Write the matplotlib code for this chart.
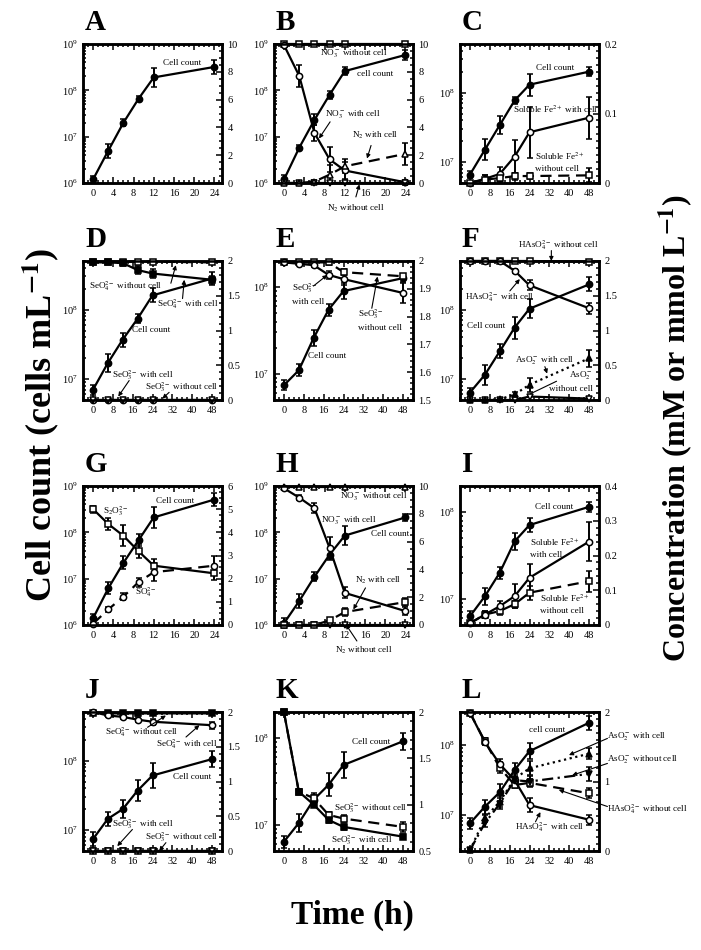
import numpy as np
import matplotlib
matplotlib.use("Agg")
import matplotlib.pyplot as plt
from matplotlib.ticker import MultipleLocator, LogLocator, NullFormatter, FuncFormatter

plt.rcParams['font.family'] = ['Liberation Serif', 'DejaVu Serif']
plt.rcParams['mathtext.fontset'] = 'stix'

# sampling times (h)
t24 = [0, 3, 6, 9, 12, 24]
t48 = [0, 6, 12, 18, 24, 48]

# cell count error bars are given in decades (log10 half range)
# A
a_cell = [1.2e6, 5e6, 2e7, 6.6e7, 1.9e8, 3.2e8]
a_cell_err = [0.08, 0.15, 0.08, 0.06, 0.2, 0.15]
# B
b_cell = [1.2e6, 5.8e6, 2.3e7, 8e7, 2.6e8, 5.8e8]
b_cell_err = [0.1, 0.06, 0.12, 0.09, 0.08, 0.1]
b_no3_cell = [9.9, 7.7, 3.6, 1.7, 0.9, 0.05]
b_no3_cell_err = [0.1, 0.8, 0.6, 0.9, 0.6, 0.2]
b_no3_nocell = [10, 10, 10, 10, 10, 10]
b_n2_cell = [0, 0, 0.1, 0.6, 1.2, 2.1]
b_n2_cell_err = [0, 0.05, 0.15, 0.7, 0.5, 0.8]
b_n2_nocell = [0, 0, 0, 0, 0, 0]
# C
c_cell = [6.6e6, 1.5e7, 3.4e7, 7.7e7, 1.3e8, 2.0e8]
c_cell_err = [0.05, 0.15, 0.13, 0.05, 0.16, 0.065]
c_fe_cell = [0, 0.006, 0.013, 0.038, 0.073, 0.094]
c_fe_cell_err = [0.003, 0.006, 0.01, 0.024, 0.037, 0.03]
c_fe_nocell = [0, 0.005, 0.007, 0.01, 0.01, 0.011]
c_fe_nocell_err = [0.003, 0.006, 0.006, 0.005, 0.004, 0.01]
# D
d_cell = [7e6, 1.7e7, 3.7e7, 7.4e7, 1.6e8, 2.8e8]
d_cell_err = [0.07, 0.13, 0.1, 0.06, 0.1, 0.1]
d_seo4_cell = [1.98, 1.98, 1.97, 1.87, 1.82, 1.73]
d_seo4_cell_err = [0.02, 0.03, 0.04, 0.06, 0.07, 0.06]
d_seo4_nocell = [1.99, 1.99, 1.99, 1.99, 1.99, 1.98]
d_seo3_cell = [0, 0, 0, 0, 0, 0]
d_seo3_nocell = [0, 0, 0, 0, 0, 0]
# E
e_cell = [7.4e6, 1.1e7, 2.6e7, 5.5e7, 9e7, 1.27e8]
e_cell_err = [0.06, 0.07, 0.09, 0.07, 0.09, 0.05]
e_seo3_cell = [1.995, 1.99, 1.985, 1.95, 1.935, 1.885]
e_seo3_cell_err = [0.005, 0.005, 0.008, 0.015, 0.02, 0.035]
e_seo3_nocell = [1.995, 1.995, 1.995, 1.995, 1.96, 1.945]
e_seo3_nocell_err = [0.005, 0.005, 0.005, 0.008, 0.01, 0.01]
# F
f_cell = [6.4e6, 1.15e7, 2.5e7, 5.5e7, 1.03e8, 2.3e8]
f_cell_err = [0.06, 0.14, 0.1, 0.16, 0.14, 0.1]
f_has_cell = [2.0, 2.0, 2.0, 1.86, 1.65, 1.32]
f_has_cell_err = [0.01, 0.01, 0.02, 0.03, 0.07, 0.08]
f_has_nocell = [2.0, 2.0, 2.0, 2.0, 2.0, 1.99]
f_aso2_cell = [0, 0, 0.01, 0.08, 0.22, 0.6]
f_aso2_cell_err = [0, 0, 0.01, 0.03, 0.1, 0.12]
f_aso2_nocell = [0, 0, 0, 0, 0.05, 0.02]
# G
g_cell = [1.4e6, 6.2e6, 2.2e7, 6.8e7, 2.1e8, 5.1e8]
g_cell_err = [0.1, 0.13, 0.14, 0.13, 0.23, 0.14]
g_s2o3 = [5.0, 4.36, 3.85, 3.18, 2.56, 2.23]
g_s2o3_err = [0.15, 0.25, 0.45, 0.3, 0.3, 0.3]
g_so4 = [0.06, 0.67, 1.23, 1.85, 2.28, 2.56]
g_so4_err = [0.05, 0.1, 0.15, 0.2, 0.4, 0.4]
# H
h_cell = [1.1e6, 3.3e6, 1.1e7, 3.3e7, 8.5e7, 2.1e8]
h_cell_err = [0.1, 0.15, 0.1, 0.12, 0.2, 0.08]
h_no3_cell = [9.83, 9.16, 8.4, 5.54, 2.31, 1.0]
h_no3_cell_err = [0.1, 0.2, 0.35, 0.8, 0.4, 0.3]
h_no3_nocell = [9.95, 9.95, 9.95, 9.95, 9.95, 9.95]
h_n2_cell = [0, 0, 0, 0.33, 0.93, 1.65]
h_n2_cell_err = [0, 0, 0.05, 0.1, 0.3, 0.3]
h_n2_nocell = [0, 0, 0, 0, 0, 0]
# I
i_cell = [6.3e6, 1.07e7, 2e7, 4.6e7, 7.1e7, 1.15e8]
i_cell_err = [0.06, 0.1, 0.07, 0.1, 0.08, 0.06]
i_fe_cell = [0.005, 0.03, 0.054, 0.083, 0.136, 0.24]
i_fe_cell_err = [0.005, 0.01, 0.015, 0.035, 0.04, 0.055]
i_fe_nocell = [0.005, 0.03, 0.04, 0.06, 0.093, 0.126]
i_fe_nocell_err = [0.005, 0.01, 0.01, 0.01, 0.02, 0.03]
# J
j_cell = [7.4e6, 1.45e7, 2e7, 3.7e7, 6.1e7, 1.05e8]
j_cell_err = [0.1, 0.1, 0.13, 0.15, 0.18, 0.12]
j_seo4_cell = [2.0, 1.95, 1.93, 1.89, 1.86, 1.81]
j_seo4_cell_err = [0.01, 0.02, 0.03, 0.04, 0.04, 0.05]
j_seo4_nocell = [1.99, 1.98, 1.98, 1.98, 1.98, 1.98]
j_seo3_cell = [0, 0, 0, 0, 0, 0]
j_seo3_nocell = [0, 0, 0, 0, 0, 0]
# K
k_cell = [6.4e6, 1.05e7, 1.95e7, 2.9e7, 4.9e7, 9.2e7]
k_cell_err = [0.07, 0.1, 0.08, 0.13, 0.15, 0.1]
k_seo3_cell = [2.0, 1.14, 1.0, 0.835, 0.76, 0.655]
k_seo3_cell_err = [0.01, 0.03, 0.03, 0.03, 0.03, 0.03]
k_seo3_nocell = [2.0, 1.14, 1.07, 0.89, 0.85, 0.76]
k_seo3_nocell_err = [0.01, 0.03, 0.03, 0.03, 0.04, 0.05]
# L
l_cell = [7.5e6, 1.3e7, 2.1e7, 4.4e7, 8.2e7, 2.1e8]
l_cell_err = [0.08, 0.1, 0.12, 0.1, 0.12, 0.1]
l_has_cell = [1.99, 1.57, 1.25, 1.02, 0.66, 0.45]
l_has_cell_err = [0.01, 0.05, 0.08, 0.05, 0.1, 0.07]
l_has_nocell = [1.99, 1.58, 1.2, 0.95, 0.98, 0.83]
l_has_nocell_err = [0.01, 0.05, 0.08, 0.05, 0.05, 0.07]
l_aso2_cell = [0.01, 0.47, 0.71, 1.04, 1.19, 1.4]
l_aso2_cell_err = [0.02, 0.05, 0.08, 0.06, 0.1, 0.08]
l_aso2_nocell = [0.01, 0.4, 0.68, 1.02, 1.0, 1.11]
l_aso2_nocell_err = [0.02, 0.05, 0.08, 0.05, 0.08, 0.1]

W, HF = 701, 950
col_px = [83, 274, 460]
row_px = [44, 261, 486, 712]
SZ = 139

fig = plt.figure(figsize=(W / 100, HF / 100), dpi=100)

SOLID = '-'
DASH = (0, (5, 3))
DOT = (0, (1, 1.6))
DASHDOT = (0, (5, 2, 1, 2))
fmt_g = FuncFormatter(lambda v, p: f'{v:g}')


def panel(col, row, letter, t, ylog, yr, rmaj, rmin):
    left = col_px[col] / W
    bottom = 1 - (row_px[row] + SZ) / HF
    ax = fig.add_axes([left, bottom, SZ / W, SZ / HF])
    long = t[-1] == 48
    ax.set_yscale('log')
    ax.set_ylim(*ylog)
    ax.set_xlim((-4, 52) if long else (-2, 25.5))
    ax.xaxis.set_major_locator(MultipleLocator(8 if long else 4))
    ax.xaxis.set_minor_locator(MultipleLocator(2 if long else 1))
    ax.yaxis.set_major_locator(LogLocator(base=10))
    ax.yaxis.set_minor_locator(LogLocator(base=10, subs=np.arange(2, 10)))
    ax.yaxis.set_minor_formatter(NullFormatter())
    ax2 = ax.twinx()
    ax2.set_ylim(*yr)
    ax2.yaxis.set_major_locator(MultipleLocator(rmaj))
    ax2.yaxis.set_minor_locator(MultipleLocator(rmin))
    ax2.yaxis.set_major_formatter(fmt_g)
    for a in (ax, ax2):
        a.tick_params(which='both', direction='in', labelsize=7.5, width=1.1, pad=4)
        a.tick_params(which='major', length=4.5)
        a.tick_params(which='minor', length=2.2)
        for s in a.spines.values():
            s.set_linewidth(1.8)
    ax.tick_params(which='both', top=True)
    fig.text(left + 2 / W, 1 - (row_px[row] - 8) / HF, letter, fontsize=21,
             fontweight='bold', ha='left', va='bottom')
    return ax, ax2


def draw(a, t, y, err, mk, filled, ls, logerr=False):
    y = np.asarray(y, dtype=float)
    if err is None:
        yerr = None
    elif logerr:
        e = np.asarray(err)
        yerr = [y - y / 10 ** e, y * 10 ** e - y]
    else:
        yerr = err
    a.errorbar(t, y, yerr=yerr, marker=mk, ls=ls, color='k', lw=1.6, ms=4.5,
               mfc='k' if filled else 'white', mec='k', mew=1.1, ecolor='k',
               elinewidth=1.4, capsize=2.5, capthick=1.4, clip_on=False)


def txt(a, x, y, s, **kw):
    a.text(x, y, s, fontsize=6.6, va='center', ha=kw.pop('ha', 'left'),
           clip_on=False, linespacing=1.5, **kw)


def arrow(a, tail, head, style='-|>'):
    a.annotate('', xy=head, xytext=tail, annotation_clip=False,
               arrowprops=dict(arrowstyle=style, color='k', lw=0.8,
                               mutation_scale=6, shrinkA=0, shrinkB=0))


# A
ax, ax2 = panel(0, 0, 'A', t24, (1e6, 1e9), (0, 10), 2, 0.5)
draw(ax, t24, a_cell, a_cell_err, 'o', True, SOLID, True)
txt(ax2, 13.8, 8.6, 'Cell count')

# B
ax, ax2 = panel(1, 0, 'B', t24, (1e6, 1e9), (0, 10), 2, 0.5)
draw(ax, t24, b_cell, b_cell_err, 'o', True, SOLID, True)
draw(ax2, t24, b_no3_nocell, None, 's', False, SOLID)
draw(ax2, t24, b_no3_cell, b_no3_cell_err, 'o', False, SOLID)
draw(ax2, t24, b_n2_nocell, None, 'v', False, SOLID)
draw(ax2, t24, b_n2_cell, b_n2_cell_err, '^', False, DASH)
txt(ax2, 7.1, 9.26, 'NO$_3^-$ without cell')
txt(ax2, 14.5, 7.84, 'cell count')
txt(ax2, 8.1, 4.9, 'NO$_3^-$ with cell')
arrow(ax2, (9.1, 4.4), (6.9, 3.2))
txt(ax2, 13.5, 3.43, 'N$_2$ with cell')
arrow(ax2, (17.2, 2.7), (16.4, 1.76))
txt(ax2, 8.4, -1.84, 'N$_2$ without cell')
arrow(ax2, (14.2, -1.0), (14.9, -0.1))

# C
ax, ax2 = panel(2, 0, 'C', t48, (5e6, 5e8), (0, 0.2), 0.1, 0.01)
draw(ax, t48, c_cell, c_cell_err, 'o', True, SOLID, True)
draw(ax2, t48, c_fe_cell, c_fe_cell_err, 'o', False, SOLID)
draw(ax2, t48, c_fe_nocell, c_fe_nocell_err, 's', False, DASH)
txt(ax2, 26.5, 0.166, 'Cell count')
txt(ax2, 17.4, 0.106, 'Soluble Fe$^{2+}$ with cell')
txt(ax2, 26.1, 0.031, 'Soluble Fe$^{2+}$\nwithout cell')

# D
ax, ax2 = panel(0, 1, 'D', t48, (5e6, 5e8), (0, 2), 0.5, 0.1)
draw(ax, t48, d_cell, d_cell_err, 'o', True, SOLID, True)
draw(ax2, t48, d_seo4_nocell, None, 's', False, DASH)
draw(ax2, t48, d_seo4_cell, d_seo4_cell_err, 's', True, SOLID)
draw(ax2, t48, d_seo3_cell, None, 'o', False, SOLID)
draw(ax2, t48, d_seo3_nocell, None, 'v', False, SOLID)
txt(ax2, -1.6, 1.64, 'SeO$_4^{2-}$ without cell')
arrow(ax2, (31.4, 1.68), (33.4, 1.94))
txt(ax2, 26, 1.38, 'SeO$_4^{2-}$ with cell')
arrow(ax2, (36.1, 1.46), (36.8, 1.73))
txt(ax2, 15.6, 1.0, 'Cell count')
txt(ax2, 7.8, 0.36, 'SeO$_3^{2-}$ with cell')
arrow(ax2, (14.6, 0.28), (10.2, 0.05))
txt(ax2, 21, 0.18, 'SeO$_3^{2-}$ without cell')
arrow(ax2, (30.7, 0.11), (28, 0.02))

# E
ax, ax2 = panel(1, 1, 'E', t48, (5e6, 2e8), (1.5, 2), 0.1, 0.02)
draw(ax, t48, e_cell, e_cell_err, 'o', True, SOLID, True)
draw(ax2, t48, e_seo3_nocell, e_seo3_nocell_err, 's', False, DASH)
draw(ax2, t48, e_seo3_cell, e_seo3_cell_err, 'o', False, SOLID)
txt(ax2, 3.1, 1.884, 'SeO$_3^{2-}$\nwith cell')
arrow(ax2, (11.9, 1.91), (17.5, 1.95))
txt(ax2, 30, 1.79, 'SeO$_3^{2-}$\nwithout cell')
arrow(ax2, (35.4, 1.83), (37.7, 1.944))
txt(ax2, 9.8, 1.66, 'Cell count')

# F
ax, ax2 = panel(2, 1, 'F', t48, (5e6, 5e8), (0, 2), 0.5, 0.1)
draw(ax, t48, f_cell, f_cell_err, 'o', True, SOLID, True)
draw(ax2, t48, f_has_nocell, None, 's', False, SOLID)
draw(ax2, t48, f_has_cell, f_has_cell_err, 'o', False, SOLID)
draw(ax2, t48, f_aso2_nocell, None, 'v', False, SOLID)
draw(ax2, t48, f_aso2_cell, f_aso2_cell_err, '^', True, DOT)
txt(ax2, 19.4, 2.23, 'HAsO$_4^{2-}$ without cell')
arrow(ax2, (32.8, 2.15), (32.8, 2.0))
txt(ax2, -2, 1.48, 'HAsO$_4^{2-}$ with cell')
arrow(ax2, (16.1, 1.57), (20.1, 1.74))
txt(ax2, -1.3, 1.07, 'Cell count')
txt(ax2, 18.1, 0.57, 'AsO$_2^-$ with cell')
arrow(ax2, (30.2, 0.48), (31.1, 0.38))
txt(ax2, 49.5, 0.27, 'AsO$_2^-$\nwithout cell', ha='right')
arrow(ax2, (34.9, 0.27), (24.4, 0.09), style='-')

# G
ax, ax2 = panel(0, 2, 'G', t24, (1e6, 1e9), (0, 6), 1, 0.25)
draw(ax, t24, g_cell, g_cell_err, 'o', True, SOLID, True)
draw(ax2, t24, g_s2o3, g_s2o3_err, 's', False, SOLID)
draw(ax2, t24, g_so4, g_so4_err, 'o', False, DASH)
txt(ax2, 1.9, 4.93, 'S$_2$O$_3^{2-}$')
txt(ax2, 12.4, 5.36, 'Cell count')
txt(ax2, 8.3, 1.42, 'SO$_4^{2-}$')

# H
ax, ax2 = panel(1, 2, 'H', t24, (1e6, 1e9), (0, 10), 2, 0.5)
draw(ax, t24, h_cell, h_cell_err, 'o', True, SOLID, True)
draw(ax2, t24, h_no3_nocell, None, '^', False, SOLID)
draw(ax2, t24, h_no3_cell, h_no3_cell_err, 'o', False, SOLID)
draw(ax2, t24, h_n2_nocell, None, 'v', False, SOLID)
draw(ax2, t24, h_n2_cell, h_n2_cell_err, 's', False, DASH)
txt(ax2, 11, 9.19, 'NO$_3^-$ without cell')
txt(ax2, 7.3, 7.52, 'NO$_3^-$ with cell')
txt(ax2, 17.1, 6.56, 'Cell count')
txt(ax2, 14.1, 3.22, 'N$_2$ with cell')
arrow(ax2, (16.1, 2.67), (13.7, 1.12))
txt(ax2, 10, -1.86, 'N$_2$ without cell')
arrow(ax2, (14.4, -1.15), (12.2, 0.05))

# I
ax, ax2 = panel(2, 2, 'I', t48, (5e6, 2e8), (0, 0.4), 0.1, 0.02)
draw(ax, t48, i_cell, i_cell_err, 'o', True, SOLID, True)
draw(ax2, t48, i_fe_nocell, i_fe_nocell_err, 's', False, DASH)
draw(ax2, t48, i_fe_cell, i_fe_cell_err, 'o', False, SOLID)
txt(ax2, 26.2, 0.341, 'Cell count')
txt(ax2, 24.1, 0.222, 'Soluble Fe$^{2+}$\nwith cell')
txt(ax2, 28.2, 0.062, 'Soluble Fe$^{2+}$\nwithout cell')

# J
ax, ax2 = panel(0, 3, 'J', t48, (5e6, 5e8), (0, 2), 0.5, 0.1)
draw(ax, t48, j_cell, j_cell_err, 'o', True, SOLID, True)
draw(ax2, t48, j_seo4_nocell, None, 's', True, SOLID)
draw(ax2, t48, j_seo4_cell, j_seo4_cell_err, 'o', False, SOLID)
draw(ax2, t48, j_seo3_nocell, None, 's', False, SOLID)
draw(ax2, t48, j_seo3_cell, None, 'v', False, SOLID)
txt(ax2, 4.9, 1.71, 'SeO$_4^{2-}$ without cell')
arrow(ax2, (22, 1.78), (29.4, 1.95))
txt(ax2, 25.3, 1.54, 'SeO$_4^{2-}$ with cell')
arrow(ax2, (37.5, 1.64), (42.9, 1.81))
txt(ax2, 32.3, 1.06, 'Cell count')
txt(ax2, 7.8, 0.38, 'SeO$_3^{2-}$ with cell')
arrow(ax2, (15.9, 0.31), (9.8, 0.07))
txt(ax2, 21, 0.2, 'SeO$_3^{2-}$ without cell')
arrow(ax2, (29.4, 0.12), (26.7, 0.0))

# K
ax, ax2 = panel(1, 3, 'K', t48, (5e6, 2e8), (0.5, 2), 0.5, 0.1)
draw(ax, t48, k_cell, k_cell_err, 'o', True, SOLID, True)
draw(ax2, t48, k_seo3_nocell, k_seo3_nocell_err, 's', False, DASH)
draw(ax2, t48, k_seo3_cell, k_seo3_cell_err, 's', True, SOLID)
txt(ax2, 27.6, 1.68, 'Cell count')
txt(ax2, 20.1, 0.96, 'SeO$_3^{2-}$ without cell')
txt(ax2, 18.8, 0.62, 'SeO$_3^{2-}$ with cell')

# L
ax, ax2 = panel(2, 3, 'L', t48, (3e6, 3e8), (0, 2), 1, 0.1)
draw(ax, t48, l_cell, l_cell_err, 'o', True, SOLID, True)
draw(ax2, t48, l_has_nocell, l_has_nocell_err, 's', False, DASH)
draw(ax2, t48, l_has_cell, l_has_cell_err, 'o', False, SOLID)
draw(ax2, t48, l_aso2_nocell, l_aso2_nocell_err, 'v', True, DASHDOT)
draw(ax2, t48, l_aso2_cell, l_aso2_cell_err, '^', True, DOT)
txt(ax2, 23.6, 1.74, 'cell count')
txt(ax2, 55.4, 1.64, 'AsO$_2^-$ with cell')
arrow(ax2, (55.4, 1.62), (39.9, 1.38))
txt(ax2, 55.4, 1.31, 'AsO$_2^-$ without cell')
arrow(ax2, (55.4, 1.26), (41.2, 1.09))
txt(ax2, 55.4, 0.61, 'HAsO$_4^{2-}$ without cell')
arrow(ax2, (55.4, 0.64), (35.8, 0.88))
txt(ax2, 18.2, 0.35, 'HAsO$_4^{2-}$ with cell')
arrow(ax2, (26.4, 0.42), (28.4, 0.56))

# overall axis titles
fig.text(41 / W, 1 - 425 / HF, 'Cell count (cells mL$^{\\mathbf{-1}}$)', rotation=90,
         fontsize=26, fontweight='bold', ha='center', va='center')
fig.text(676 / W, 1 - 428 / HF, 'Concentration (mM or mmol L$^{\\mathbf{-1}}$)', rotation=90,
         fontsize=23, fontweight='bold', ha='center', va='center')
fig.text(352 / W, 1 - 915 / HF, 'Time (h)', fontsize=24, fontweight='bold',
         ha='center', va='center')

fig.savefig('out.png', dpi=100)
